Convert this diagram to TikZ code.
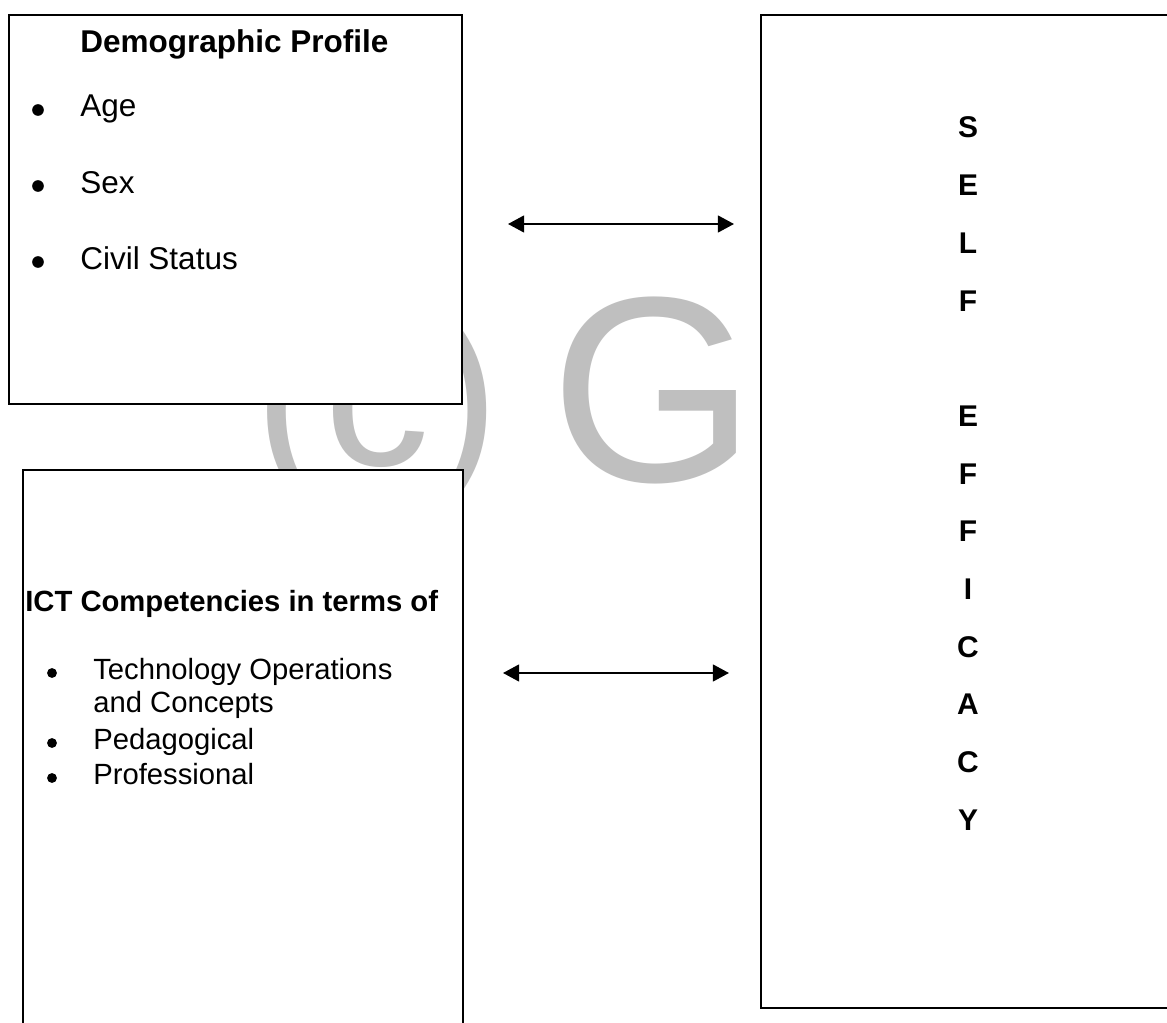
\documentclass[tikz,border=0pt]{standalone}
\usepackage{fontspec}
\setmainfont{Liberation Sans}
\usetikzlibrary{arrows.meta}
\begin{document}
\begin{tikzpicture}[x=0.025cm,y=-0.025cm,
  boxline/.style={line width=1.7pt,line cap=rect},
  boxfill/.style={draw=none,fill=white,inner sep=0pt,outer sep=0pt},
  upper/.style={inner sep=0pt,anchor=base west,font=\fontsize{22.4}{26}\selectfont},
  uppertitle/.style={upper,font=\fontsize{22.4}{26}\selectfont\bfseries},
  lower/.style={inner sep=0pt,anchor=base west,font=\fontsize{20.8}{24}\selectfont},
  lowertitle/.style={lower,font=\fontsize{20.8}{24}\selectfont\bfseries},
  letter/.style={inner sep=0pt,anchor=base,font=\fontsize{21.3}{24}\selectfont\bfseries},
  bulA/.style={circle,fill=black,inner sep=0pt,minimum size=8.3pt},
  bulB/.style={circle,fill=black,inner sep=0pt,minimum size=7pt},
  wmark/.style={inner sep=0pt,anchor=base west,text=black!25},
  dblarrow/.style={line width=1.5pt,{Triangle[length=11.5pt,width=12pt]}-{Triangle[length=11.5pt,width=12pt]}}
]
\useasboundingbox (0,0) rectangle (1167,1023);
\fill[white] (0,0) rectangle (1167,1023);

% watermark
\node[wmark,font=\fontsize{150}{156}\selectfont] (wmc) at (254,466) {(c)};
\node[wmark,font=\fontsize{188}{190}\selectfont] (wmg) at (550,482) {G};

% box 1: demographic profile
\node[boxfill,minimum width=11.325cm,minimum height=9.725cm] (b1) at (235.5,209.5) {};
\draw[boxline] (b1.north west) rectangle (b1.south east);

% box 2: ICT competencies (open at the bottom)
\node[boxfill,minimum width=11cm,minimum height=13.825cm] (b2) at (243,746.5) {};
\draw[boxline] (b2.south west) -- (b2.north west) -- (b2.north east) -- (b2.south east);

% box 3: self efficacy (open at the right)
\node[boxfill,minimum width=10.15cm,minimum height=24.825cm] (b3) at (964,511.5) {};
\draw[boxline] (b3.north east) -- (b3.north west) -- (b3.south west) -- (b3.south east);

% texts of box 1
\node[uppertitle] (t1) at (80,53) {Demographic Profile};
\node[bulA] (d1) at (38,110) {};
\node[upper] (i1) at (80,117) {Age};
\node[bulA] (d2) at (38,186) {};
\node[upper] (i2) at (80,194) {Sex};
\node[bulA] (d3) at (38,262) {};
\node[upper] (i3) at (80,270) {Civil Status};

% texts of box 2
\node[lowertitle] (t2) at (25,612) {ICT Competencies in terms of};
\node[bulB] (e1) at (52,673) {};
\node[lower] (j1) at (93,680) {Technology Operations};
\node[lower] (j1b) at (93,713) {and Concepts};
\node[bulB] (e2) at (52,743) {};
\node[lower] (j2) at (93,750) {Pedagogical};
\node[bulB] (e3) at (52,778) {};
\node[lower] (j3) at (93,784) {Professional};

% letters of box 3
\foreach \ch/\k in {S/0,E/1,L/2,F/3,E/5,F/6,F/7,I/8,C/9,A/10,C/11,Y/12}{
  \node[letter] (L\k) at (968,138+57.7*\k) {\ch};
}

% arrows
\coordinate (a1l) at (508,224);
\coordinate (a1r) at (734,224);
\coordinate (a2l) at (503,673);
\coordinate (a2r) at (729,673);
\draw[dblarrow] (a1l) -- (a1r);
\draw[dblarrow] (a2l) -- (a2r);
\end{tikzpicture}
\end{document}
